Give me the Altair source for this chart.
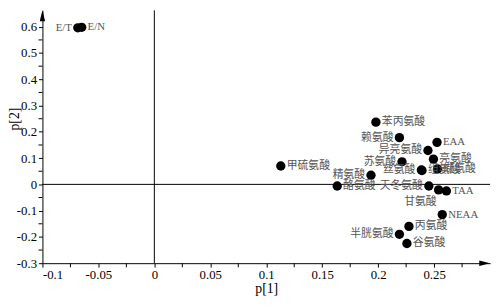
import altair as alt
import pandas as pd

names = ["E/T", "E/N", "甲硫氨酸", "苯丙氨酸", "赖氨酸", "EAA", "异亮氨酸", "苏氨酸",
         "亮氨酸", "丝氨酸", "组氨酸", "缬氨酸", "精氨酸", "酪氨酸", "天冬氨酸", "甘氨酸",
         "TAA", "NEAA", "丙氨酸", "半胱氨酸", "谷氨酸"]
p1 = [-0.0684, -0.0649, 0.113, 0.198, 0.219, 0.2526, 0.2445, 0.2213,
      0.2494, 0.2386, 0.2392, 0.253, 0.1936, 0.1634, 0.2453, 0.254,
      0.261, 0.2573, 0.2275, 0.219, 0.2257]
p2 = [0.596, 0.598, 0.070, 0.237, 0.178, 0.160, 0.129, 0.086,
      0.096, 0.055, 0.053, 0.059, 0.035, -0.006, -0.006, -0.021,
      -0.025, -0.115, -0.160, -0.190, -0.225]
label_side = ["left", "right", "right", "right", "left", "right", "left", "left",
              "right", "left", "right", "right", "left", "right", "left", "below",
              "right", "right", "right", "left", "right"]

x_major = [-0.1, -0.05, 0, 0.05, 0.1, 0.15, 0.2, 0.25]
x_minor = [-0.075, -0.025, 0.025, 0.075, 0.125, 0.175, 0.225, 0.275]
y_major = [-0.3, -0.2, -0.1, 0, 0.1, 0.2, 0.3, 0.4, 0.5, 0.6]
y_minor = [-0.25, -0.15, -0.05, 0.05, 0.15, 0.25, 0.35, 0.45, 0.55]

X_MIN, X_MAX = -0.1, 0.3
Y_MIN, Y_MAX = -0.3, 0.6625
W, H = 455, 257

df = pd.DataFrame({"name": names, "p1": p1, "p2": p2, "side": label_side})

serif = "Liberation Serif"
label_font = "Liberation Serif, Noto Sans CJK SC"
fmt = "'' + round(datum.value*1000)/1000"

xs = alt.Scale(domain=[X_MIN, X_MAX], nice=False, zero=False)
ys = alt.Scale(domain=[Y_MIN, Y_MAX], nice=False, zero=False)

base = alt.Chart(df)

points = base.mark_circle(size=90, color="black", opacity=1).encode(
    x=alt.X("p1:Q", scale=xs, title="p[1]",
            axis=alt.Axis(values=x_major, tickCount=30, labelExpr=fmt, grid=False,
                          labelOverlap=False, tickSize=4, labelPadding=2,
                          titlePadding=0)),
    y=alt.Y("p2:Q", scale=ys, title="p[2]",
            axis=alt.Axis(values=y_major, tickCount=30, labelExpr=fmt, grid=False,
                          labelOverlap=False, tickSize=4, labelPadding=2,
                          titleX=-28, titleY=110, titleBaseline="middle",
                          titleAngle=270)),
)

def labels(side, **kw):
    return base.transform_filter(alt.datum.side == side).mark_text(
        font=label_font, fontSize=11, color="#555555", baseline="middle", **kw
    ).encode(x="p1:Q", y="p2:Q", text="name:N")

lab_r = labels("right", align="left", dx=6)
lab_l = labels("left", align="right", dx=-6)
lab_b = labels("below", align="right", dx=-2, dy=12)

vrule = alt.Chart(pd.DataFrame({"v": [0]})).mark_rule(color="black", strokeWidth=1).encode(
    x=alt.X("v:Q", scale=xs))
hrule = alt.Chart(pd.DataFrame({"v": [0]})).mark_rule(color="black", strokeWidth=1).encode(
    y=alt.Y("v:Q", scale=ys))

xminor = alt.Chart(pd.DataFrame({"v": x_minor, "b": [Y_MIN] * len(x_minor)})).mark_tick(
    orient="vertical", size=4, thickness=1, color="black", opacity=1, yOffset=2
).encode(x=alt.X("v:Q", scale=xs), y=alt.Y("b:Q", scale=ys))
yminor = alt.Chart(pd.DataFrame({"v": y_minor, "b": [X_MIN] * len(y_minor)})).mark_tick(
    orient="horizontal", size=4, thickness=1, color="black", opacity=1, xOffset=-2
).encode(y=alt.Y("v:Q", scale=ys), x=alt.X("b:Q", scale=xs))

arrow_len_y = 5.5 / (H / (Y_MAX - Y_MIN))
arrow_len_x = 5.5 / (W / (X_MAX - X_MIN))
up_arrow = alt.Chart(pd.DataFrame({"x": [X_MIN], "y": [Y_MAX - arrow_len_y]})).mark_point(
    shape="M0,-1L-0.5,1L0.5,1Z", size=121, filled=True, color="black", opacity=1
).encode(x=alt.X("x:Q", scale=xs), y=alt.Y("y:Q", scale=ys))
right_arrow = alt.Chart(pd.DataFrame({"x": [X_MAX - arrow_len_x], "y": [Y_MIN]})).mark_point(
    shape="M1,0L-1,-0.5L-1,0.5Z", size=121, filled=True, color="black", opacity=1
).encode(x=alt.X("x:Q", scale=xs), y=alt.Y("y:Q", scale=ys))

chart = alt.layer(vrule, hrule, xminor, yminor, points, lab_r, lab_l, lab_b,
                  up_arrow, right_arrow).properties(
    width=W, height=H,
    autosize=alt.AutoSizeParams(type="none"),
    padding={"left": 35, "top": 0, "right": 4, "bottom": 34},
).configure_view(stroke=None).configure_axis(
    domainColor="black", tickColor="black", labelColor="black", titleColor="black",
    labelFont=serif, titleFont=serif, labelFontSize=13, titleFontSize=14,
    titleFontWeight="normal", domainWidth=1, tickWidth=1, labelOverlap=False,
)

chart.save("out.html", embed_options={"renderer": "svg", "actions": False})
